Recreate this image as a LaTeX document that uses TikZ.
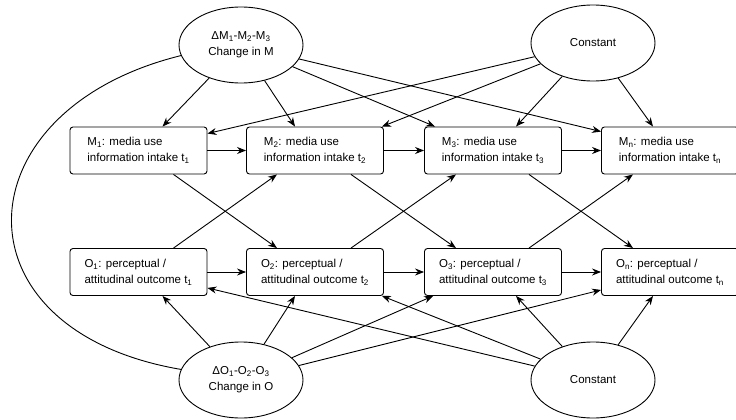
\documentclass[tikz,border=0pt]{standalone}
\usepackage{fontspec}
\setmainfont{Liberation Sans}
\usetikzlibrary{shapes.geometric,arrows.meta}

\begin{document}
\begin{tikzpicture}[x=1pt,y=-1pt,
  line width=0.9pt,
  every node/.style={font=\fontsize{11.5}{16}\selectfont},
  var/.style={draw, rounded corners=3pt, minimum width=137pt, minimum height=47pt,
              align=left, inner sep=2pt},
  latent/.style={draw, ellipse, minimum width=124pt, minimum height=76pt,
                 inner sep=0pt, align=center},
  arr/.style={-{Stealth[length=9pt,width=7pt]}}]
\useasboundingbox (0,0) rectangle (736,420);

% latent change and constant factors
\node[latent] (dM) at (241,45)  {ΔM\textsubscript{1}-M\textsubscript{2}-M\textsubscript{3}\\Change in M};
\node[latent] (cM) at (593,43)  {Constant};
\node[latent] (dO) at (241,380) {ΔO\textsubscript{1}-O\textsubscript{2}-O\textsubscript{3}\\Change in O};
\node[latent] (cO) at (593,380) {Constant};

% observed media use
\node[var] (M1) at (138.5,150.5) {M\textsubscript{1}: media use\\information intake t\textsubscript{1}};
\node[var] (M2) at (315,150.5)   {M\textsubscript{2}: media use\\information intake t\textsubscript{2}};
\node[var] (M3) at (493,150.5)   {M\textsubscript{3}: media use\\information intake t\textsubscript{3}};
\node[var] (Mn) at (670,150.5)   {M\textsubscript{n}: media use\\information intake t\textsubscript{n}};

% observed outcomes
\node[var] (O1) at (138.5,272) {O\textsubscript{1}: perceptual /\\attitudinal outcome t\textsubscript{1}};
\node[var] (O2) at (315,272)   {O\textsubscript{2}: perceptual /\\attitudinal outcome t\textsubscript{2}};
\node[var] (O3) at (493,272)   {O\textsubscript{3}: perceptual /\\attitudinal outcome t\textsubscript{3}};
\node[var] (On) at (670,272)   {O\textsubscript{n}: perceptual /\\attitudinal outcome t\textsubscript{n}};

% covariance between the two change factors
\draw (dM.190) .. controls (-40,110) and (-50,330) .. (dO.170);

% loadings of the media use factors
\draw[arr] (dM) -- ([xshift=24pt]M1.north);
\draw[arr] (dM) -- ([xshift=-20pt]M2.north);
\draw[arr] (dM) -- ([xshift=11pt]M3.north west);
\draw[arr] (dM) -- ([yshift=-5pt]Mn.north west);
\draw[arr] (cM) -- ([yshift=-7pt]M1.north east);
\draw[arr] (cM) -- ([xshift=-2pt]M2.north east);
\draw[arr] (cM) -- ([xshift=23pt]M3.north);
\draw[arr] (cM) -- ([xshift=-17pt]Mn.north);

% loadings of the outcome factors
\draw[arr] (dO) -- ([xshift=24pt]O1.south);
\draw[arr] (dO) -- ([xshift=-20pt]O2.south);
\draw[arr] (dO) -- ([xshift=9pt]O3.south west);
\draw[arr] (dO) -- ([yshift=6pt]On.south west);
\draw[arr] (cO) -- ([yshift=8pt]O1.south east);
\draw[arr] (cO) -- ([xshift=-2pt]O2.south east);
\draw[arr] (cO) -- ([xshift=23pt]O3.south);
\draw[arr] (cO) -- ([xshift=-17pt]On.south);

% autoregressive paths
\draw[arr] (M1) -- (M2);
\draw[arr] (M2) -- (M3);
\draw[arr] (M3) -- (Mn);
\draw[arr] (O1) -- (O2);
\draw[arr] (O2) -- (O3);
\draw[arr] (O3) -- (On);

% cross-lagged paths
\draw[arr] ([xshift=35pt]M1.south) -- ([xshift=-38pt]O2.north);
\draw[arr] ([xshift=35pt]O1.north) -- ([xshift=-38pt]M2.south);
\draw[arr] ([xshift=36pt]M2.south) -- ([xshift=-37pt]O3.north);
\draw[arr] ([xshift=36pt]O2.north) -- ([xshift=-37pt]M3.south);
\draw[arr] ([xshift=36pt]M3.south) -- ([xshift=-37pt]On.north);
\draw[arr] ([xshift=36pt]O3.north) -- ([xshift=-37pt]Mn.south);
\end{tikzpicture}
\end{document}
